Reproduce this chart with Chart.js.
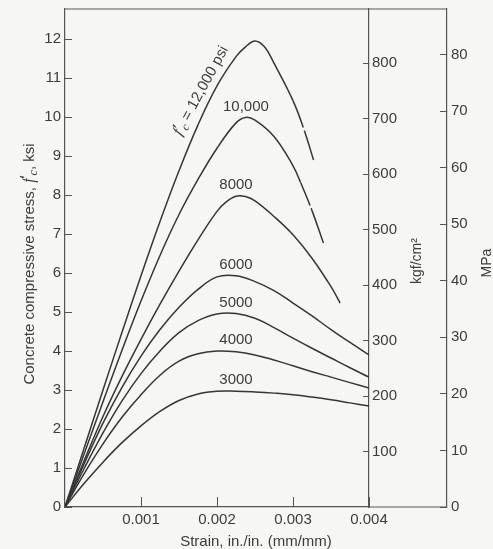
<!DOCTYPE html>
<html>
<head>
<meta charset="utf-8">
<script src="https://cdn.jsdelivr.net/npm/chart.js@4.4.1/dist/chart.umd.min.js"></script>
<style>
  html, body { margin: 0; padding: 0; background: #f6f6f4; }
  #wrap { width: 493px; height: 549px; }
</style>
</head>
<body>
<div id="wrap"><canvas id="stress-strain"></canvas></div>
<script>
// concrete stress-strain curves, strain in in./in., stress in ksi
var strain3000 = [0, 0.00025, 0.0005, 0.00075, 0.001, 0.00125, 0.0015, 0.00175, 0.002, 0.00225, 0.0025, 0.00275, 0.003, 0.00325, 0.0035, 0.00375, 0.004];
var stress3000 = [0, 0.6, 1.15, 1.65, 2.08, 2.45, 2.73, 2.9, 2.97, 2.97, 2.95, 2.92, 2.88, 2.82, 2.75, 2.67, 2.59];

var strain4000 = [0, 0.00025, 0.0005, 0.00075, 0.001, 0.00125, 0.0015, 0.00175, 0.002, 0.00225, 0.0025, 0.00275, 0.003, 0.00325, 0.0035, 0.00375, 0.004];
var stress4000 = [0, 0.85, 1.62, 2.3, 2.88, 3.38, 3.74, 3.93, 4.0, 3.98, 3.9, 3.77, 3.62, 3.47, 3.33, 3.19, 3.05];

var strain5000 = [0, 0.00025, 0.0005, 0.00075, 0.001, 0.00125, 0.0015, 0.00175, 0.002, 0.00225, 0.0025, 0.00275, 0.003, 0.00325, 0.0035, 0.00375, 0.004];
var stress5000 = [0, 0.98, 1.9, 2.72, 3.42, 4.0, 4.47, 4.78, 4.95, 4.96, 4.84, 4.6, 4.33, 4.07, 3.82, 3.57, 3.33];

var strain6000 = [0, 0.00025, 0.0005, 0.00075, 0.001, 0.00125, 0.0015, 0.00175, 0.002, 0.00225, 0.0025, 0.00275, 0.003, 0.00325, 0.0035, 0.00375, 0.004];
var stress6000 = [0, 1.1, 2.15, 3.07, 3.87, 4.55, 5.12, 5.58, 5.9, 5.93, 5.78, 5.55, 5.23, 4.9, 4.55, 4.22, 3.9];

var strain8000 = [0, 0.00025, 0.0005, 0.00075, 0.001, 0.00125, 0.0015, 0.00175, 0.002, 0.002125, 0.00225, 0.002375, 0.0025, 0.00275, 0.003, 0.00325, 0.0035, 0.00362];
var stress8000 = [0, 1.18, 2.32, 3.35, 4.3, 5.2, 6.05, 6.85, 7.58, 7.83, 7.97, 7.96, 7.85, 7.45, 6.98, 6.38, 5.65, 5.23];

var strain10000 = [0, 0.00025, 0.0005, 0.00075, 0.001, 0.00125, 0.0015, 0.00175, 0.002, 0.00225, 0.002375, 0.0025, 0.00275, 0.003, 0.0031, 0.00325, 0.0034];
var stress10000 = [0, 1.35, 2.7, 4.02, 5.28, 6.45, 7.5, 8.4, 9.2, 9.85, 9.99, 9.92, 9.5, 8.75, 8.32, 7.6, 6.77];

var strain12000 = [0, 0.00025, 0.0005, 0.00075, 0.001, 0.00125, 0.0015, 0.00175, 0.002, 0.00225, 0.002375, 0.0025, 0.002625, 0.00275, 0.003, 0.00315, 0.00327];
var stress12000 = [0, 1.5, 3.0, 4.48, 5.93, 7.32, 8.62, 9.8, 10.8, 11.55, 11.8, 11.95, 11.8, 11.38, 10.42, 9.65, 8.9];

var curveNames = ['3000', '4000', '5000', '6000', '8000', '10,000', '12,000'];
var strainTicks = [0.001, 0.002, 0.003, 0.004];
var kgfTicks = [100, 200, 300, 400, 500, 600, 700, 800];

var KSI_TO_KGF = 70.307;
var KSI_TO_MPA = 6.89476;
var ksiMax = 12.77;

function pts(xs, ys) {
  return xs.map(function (x, i) { return { x: x, y: ys[i] }; });
}

var curves = [
  pts(strain3000, stress3000),
  pts(strain4000, stress4000),
  pts(strain5000, stress5000),
  pts(strain6000, stress6000),
  pts(strain8000, stress8000),
  pts(strain10000, stress10000),
  pts(strain12000, stress12000)
];

// the two strongest curves have a small break near their ends in the print
var breakAt = { 5: [0.0031, [25, 3]], 6: [0.003, [29, 3]] };

var ink = '#363636';
var axisInk = '#555';
var textInk = '#3c3c3c';
var SANS = '"Liberation Sans", Arial, sans-serif';
var SERIF = '"Liberation Serif", serif';

// draws a run of text pieces with their own fonts / offsets, centred on x
function richText(ctx, parts, x, y) {
  var w = 0;
  parts.forEach(function (p) { ctx.font = p.font; p.w = ctx.measureText(p.t).width; w += p.w; });
  var cx = x - w / 2;
  ctx.textAlign = 'left';
  ctx.textBaseline = 'middle';
  parts.forEach(function (p) { ctx.font = p.font; ctx.fillText(p.t, cx, y + (p.dy || 0)); cx += p.w; });
}

function fc(size) {
  return [
    { t: 'f', font: 'italic ' + size + 'px ' + SERIF },
    { t: '\u2032', font: size + 'px ' + SANS, dy: -2 },
    { t: 'c', font: 'italic ' + Math.round(size * 0.72) + 'px ' + SERIF, dy: 4 }
  ];
}

var decor = {
  id: 'decor',
  beforeDraw: function (chart) {
    var ctx = chart.ctx;
    ctx.save();
    ctx.fillStyle = '#f6f6f4';
    ctx.fillRect(0, 0, chart.width, chart.height);
    ctx.restore();
  },
  afterDraw: function (chart) {
    var ctx = chart.ctx, a = chart.chartArea, s = chart.scales;
    var midY = (a.top + a.bottom) / 2;
    ctx.save();

    // rest of the frame
    ctx.strokeStyle = axisInk;
    ctx.lineWidth = 1.2;
    ctx.beginPath();
    ctx.moveTo(a.left, a.top);
    ctx.lineTo(s.mpa.left, a.top);
    ctx.moveTo(a.right, a.bottom);
    ctx.lineTo(s.mpa.left, a.bottom);
    ctx.stroke();

    ctx.fillStyle = textInk;

    // axis titles
    richText(ctx, [{ t: 'Strain, in./in. (mm/mm)', font: '15px ' + SANS }], (a.left + s.mpa.left) / 2, a.bottom + 35);

    ctx.save();
    ctx.translate(30, midY + 6);
    ctx.rotate(-Math.PI / 2);
    richText(ctx, [{ t: 'Concrete compressive stress, ', font: '15px ' + SANS }]
      .concat(fc(16))
      .concat([{ t: ', ksi', font: '15px ' + SANS }]), 0, 0);
    ctx.restore();

    ctx.save();
    ctx.translate(s.kgf.left + 48, midY + 3);
    ctx.rotate(-Math.PI / 2);
    richText(ctx, [{ t: 'kgf/cm\u00b2', font: '14px ' + SANS }], 0, 0);
    ctx.restore();

    ctx.save();
    ctx.translate(s.mpa.left + 40, midY + 5);
    ctx.rotate(-Math.PI / 2);
    richText(ctx, [{ t: 'MPa', font: '14px ' + SANS }], 0, 0);
    ctx.restore();

    // curve labels sit just above each peak
    var labelStrain = [0.00225, 0.00225, 0.00225, 0.00225, 0.00225, 0.00238];
    for (var i = 0; i < 6; i++) {
      var peak = Math.max.apply(null, curves[i].map(function (p) { return p.y; }));
      richText(ctx, [{ t: curveNames[i], font: '15px ' + SANS }],
        s.x.getPixelForValue(labelStrain[i]), s.y.getPixelForValue(peak) - 11);
    }

    // f'c = 12,000 psi along the steep curve
    ctx.save();
    ctx.translate(s.x.getPixelForValue(0.00179), s.y.getPixelForValue(10.67));
    ctx.rotate(-61.5 * Math.PI / 180);
    richText(ctx, fc(16).concat([{ t: ' = ' + curveNames[6] + ' psi', font: '15px ' + SANS }]), 0, 0);
    ctx.restore();

    ctx.restore();
  }
};

function tickGrid(len) {
  return { display: true, drawOnChartArea: false, drawTicks: true, tickLength: len, color: axisInk, lineWidth: 1 };
}

// keep the frame where the picture has it: no extra room for edge labels
function noEdgePad(sc) {
  sc.paddingTop = 0;
  sc.paddingBottom = 0;
}

var tickFont = { family: SANS, size: 15 };

new Chart(document.getElementById('stress-strain'), {
  type: 'line',
  data: {
    datasets: curves.map(function (c, i) {
      var br = breakAt[i];
      return {
        label: curveNames[i],
        data: c,
        borderColor: ink,
        borderWidth: 1.5,
        pointRadius: 0,
        fill: false,
        tension: 0.4,
        segment: {
          borderDash: function (sc) { return br && sc.p0.parsed.x === br[0] ? br[1] : undefined; }
        }
      };
    })
  },
  options: {
    responsive: true,
    maintainAspectRatio: false,
    animation: false,
    layout: { padding: { top: 9, left: 0, right: 0, bottom: 0 } },
    plugins: { legend: { display: false }, tooltip: { enabled: false } },
    scales: {
      x: {
        type: 'linear',
        min: 0,
        max: 0.004,
        grid: tickGrid(-10),
        border: { color: axisInk, width: 1.2 },
        ticks: { color: textInk, font: tickFont, padding: 14, maxRotation: 0, callback: function (v) { return v.toFixed(3); } },
        afterBuildTicks: function (sc) { sc.ticks = strainTicks.map(function (v) { return { value: v }; }); },
        afterFit: function (sc) { sc.height = 42; }
      },
      y: {
        position: 'left',
        min: 0,
        max: ksiMax,
        grid: tickGrid(-7),
        border: { color: axisInk, width: 1.2 },
        ticks: { color: textInk, font: tickFont, stepSize: 1, includeBounds: false, padding: 11 },
        afterFit: function (sc) { sc.width = 65; noEdgePad(sc); }
      },
      kgf: {
        position: 'right',
        weight: 0,
        min: 0,
        max: ksiMax * KSI_TO_KGF,
        grid: tickGrid(-6),
        border: { color: axisInk, width: 1.2 },
        ticks: { color: textInk, font: tickFont, padding: 9 },
        afterBuildTicks: function (sc) { sc.ticks = kgfTicks.map(function (v) { return { value: v }; }); },
        afterFit: function (sc) { sc.width = 78; noEdgePad(sc); }
      },
      mpa: {
        position: 'right',
        weight: 1,
        min: 0,
        max: ksiMax * KSI_TO_MPA,
        grid: tickGrid(-7),
        border: { color: axisInk, width: 1.2 },
        ticks: { color: textInk, font: tickFont, stepSize: 10, includeBounds: false, padding: 11 },
        afterFit: function (sc) { sc.width = 46; noEdgePad(sc); }
      }
    }
  },
  plugins: [decor]
});
</script>
</body>
</html>
